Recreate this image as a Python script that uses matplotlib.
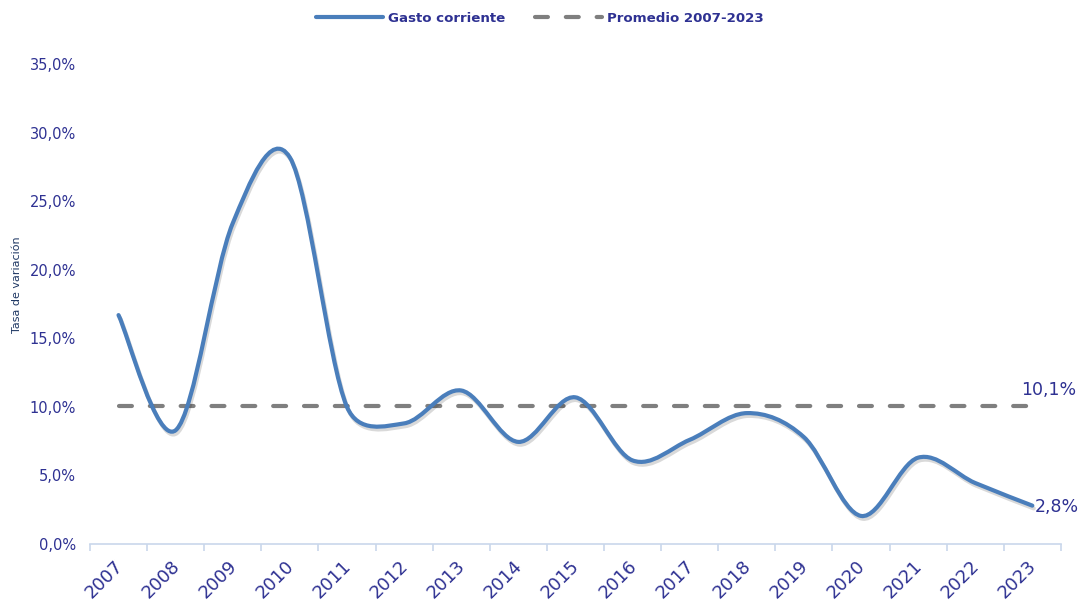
import numpy as np
import matplotlib.pyplot as plt
import matplotlib.patheffects as pe
import matplotlib.transforms as mtransforms
from matplotlib.lines import Line2D
from matplotlib.path import Path
from matplotlib.patches import PathPatch
from matplotlib.ticker import FuncFormatter

years = [str(y) for y in range(2007, 2024)]
gasto = [16.7, 8.3, 23.4, 28.2, 10.0, 8.8, 11.2, 7.45, 10.7, 6.1,
         7.6, 9.55, 7.8, 2.05, 6.3, 4.45, 2.8]
promedio = 10.1

TEXT = "#2E3192"
BLUE = "#4A7EBB"
GRAY = "#7F7F7F"
AXIS = "#C9D7EB"

plt.rcParams['font.family'] = ['DejaVu Sans']


def smooth_path(ax, xs, ys):
    """Excel-style smoothed line (bezier), computed in screen space"""
    pts = ax.transData.transform(np.column_stack([xs, ys]))
    n = len(pts)
    verts = [pts[0]]
    codes = [Path.MOVETO]
    for i in range(n - 1):
        p0 = pts[max(i - 1, 0)]
        p1 = pts[i]
        p2 = pts[i + 1]
        p3 = pts[min(i + 2, n - 1)]
        d02 = np.hypot(*(p2 - p0))
        d12 = np.hypot(*(p2 - p1))
        d13 = np.hypot(*(p3 - p1))
        f0 = 1 / 6
        f3 = 1 / 6
        if d02 / 6 >= d12 / 2 and d02 > 0:
            f0 = d12 / d02 / 2
        if d13 / 6 >= d12 / 2 and d13 > 0:
            f3 = d12 / d13 / 2
        c1 = p1 + (p2 - p0) * f0
        c2 = p2 - (p3 - p1) * f3
        verts += [c1, c2, p2]
        codes += [Path.CURVE4] * 3
    verts = ax.transData.inverted().transform(np.array(verts))
    return Path(verts, codes)


fig = plt.figure(figsize=(10.8, 6.02), dpi=100)
ax = fig.add_axes([0.0833, 0.0963, 0.899, 0.797])

x = list(range(len(years)))

ax.set_xlim(-0.5, len(years) - 0.5)
ax.set_ylim(0, 35)

# average line
ax.plot([x[0], x[-1]], [promedio, promedio], color=GRAY, lw=3,
        dashes=(3.1, 4.3), dash_capstyle='round', zorder=2)

# smoothed series
patch = PathPatch(smooth_path(ax, x, gasto), facecolor='none', edgecolor=BLUE,
                  lw=3, capstyle='round', zorder=3,
                  path_effects=[pe.SimpleLineShadow(offset=(1, -2), alpha=0.15),
                                pe.Normal()])
ax.add_patch(patch)

ax.set_yticks([0, 5, 10, 15, 20, 25, 30, 35])
ax.yaxis.set_major_formatter(FuncFormatter(lambda v, p: f"{v:.1f}%".replace('.', ',')))

ax.set_xticks(x)
ax.set_xticklabels(years, rotation=45, ha='right', rotation_mode='anchor')
ax.set_xticks([i - 0.5 for i in range(len(years) + 1)], minor=True)
ax.tick_params(axis='x', which='major', length=0, pad=8, labelsize=13,
               labelcolor=TEXT)
ax.tick_params(axis='x', which='minor', length=5, width=1.2, color=AXIS)
ax.tick_params(axis='y', length=0, pad=10, labelsize=10.5, labelcolor=TEXT)

shift = mtransforms.ScaledTranslation(-5 / 100, -2 / 100, fig.dpi_scale_trans)
for lab in ax.get_xticklabels():
    lab.set_transform(lab.get_transform() + shift)

for side in ['top', 'right', 'left']:
    ax.spines[side].set_visible(False)
ax.spines['bottom'].set_color(AXIS)
ax.spines['bottom'].set_linewidth(1.2)

ax.set_ylabel("Tasa de variación", color="#1F3864", fontsize=8)
ax.yaxis.set_label_coords(-0.07, 0.54)

ax.annotate("10,1%", (x[-1], promedio), xytext=(-8, 11), textcoords='offset points',
            ha='left', va='center', fontsize=12.5, color=TEXT,
            annotation_clip=False)
ax.annotate("2,8%", (x[-1], gasto[-1]), xytext=(2, -1), textcoords='offset points',
            ha='left', va='center', fontsize=12.5, color=TEXT,
            annotation_clip=False)

handles = [Line2D([], [], color=BLUE, lw=3, solid_capstyle='round'),
           Line2D([], [], color=GRAY, lw=3, dashes=(3.1, 4.3), dash_capstyle='round')]
fig.legend(handles, ["Gasto corriente", "Promedio 2007-2023"], loc='upper center',
           bbox_to_anchor=(0.5, 1.0), ncol=2, frameon=False, handlelength=5.0,
           columnspacing=2.2, handletextpad=0.4,
           prop={'weight': 'bold', 'size': 9.6}, labelcolor=TEXT)

fig.savefig("out.png", dpi=100)
